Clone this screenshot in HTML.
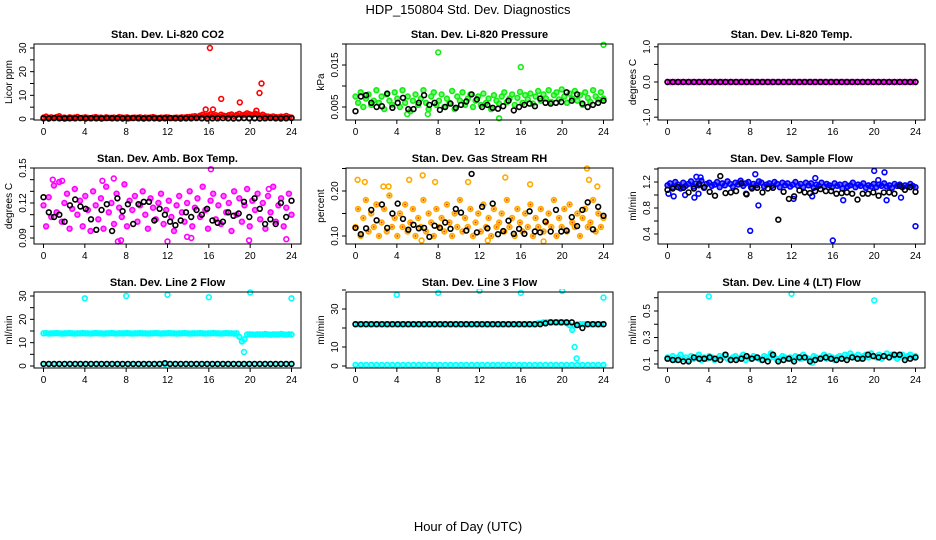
<!DOCTYPE html>
<html><head><meta charset="utf-8"><style>
html,body{margin:0;padding:0;background:#fff;}
svg{display:block;font-family:"Liberation Sans",Arial,sans-serif;}
</style></head><body>
<svg id="chart" width="936" height="540" viewBox="0 0 936 540" xmlns="http://www.w3.org/2000/svg">
<text x="468" y="14" text-anchor="middle" font-size="13">HDP_150804  Std. Dev. Diagnostics</text>
<text x="468" y="531" text-anchor="middle" font-size="13">Hour of Day (UTC)</text>
</svg>
<script>
// ---- data ----
const xTicks=[0,4,8,12,16,20,24];
const co2Red=[0.6,1.0,0.5,0.7,0.4,0.8,1.2,0.5,0.6,0.4,0.7,0.5,0.6,0.9,0.4,0.5,0.7,0.5,0.4,0.6,0.8,0.5,0.6,0.4,0.7,0.5,0.5,0.6,0.4,0.8,0.6,0.5,0.7,0.4,0.5,0.6,0.5,0.7,0.4,0.6,0.5,0.6,0.8,0.5,0.4,0.6,0.5,0.7,0.6,0.4,0.5,0.6,0.5,0.7,0.6,0.8,0.9,1.0,1.2,0.9,1.4,1.8,1.2,1.5,2.0,1.3,1.6,1.1,1.8,1.4,1.2,1.6,1.9,1.3,1.7,2.2,1.5,1.8,2.4,2.0,1.6,2.3,1.9,1.4,1.8,1.2,1.0,0.9,1.1,0.8,0.7,1.0,0.9,1.3,0.8,0.6];
const co2RedOutX=[15.7,16.1,16.4,17.2,19.0,20.6,20.9,21.1];
const co2RedOutY=[4,30,4,8.5,7,3.5,11,15];
const co2Black=[0.3,0.2,0.4,0.3,0.2,0.3,0.3,0.4,0.2,0.3,0.3,0.2,0.4,0.3,0.3,0.2,0.3,0.4,0.3,0.2,0.3,0.3,0.2,0.3,0.4,0.3,0.2,0.3,0.3,0.4,0.3,0.2,0.3,0.3,0.4,0.3,0.2,0.3,0.4,0.3,0.3,0.2,0.3,0.4,0.3,0.2,0.3,0.4];

const pressGreen=[0.0075,0.0060,0.0085,0.0050,0.0070,0.0080,0.0055,0.0065,0.0090,0.0060,0.0075,0.0045,0.0080,0.0065,0.0055,0.0085,0.0070,0.0050,0.0090,0.0060,0.0075,0.0040,0.0065,0.0080,0.0055,0.0070,0.0090,0.0060,0.0045,0.0075,0.0085,0.0055,0.0065,0.0080,0.0050,0.0070,0.0060,0.0088,0.0045,0.0075,0.0065,0.0085,0.0055,0.0070,0.0080,0.0050,0.0065,0.0075,0.0055,0.0082,0.0060,0.0070,0.0045,0.0078,0.0065,0.0058,0.0075,0.0085,0.0062,0.0070,0.0080,0.0055,0.0072,0.0086,0.0060,0.0078,0.0068,0.0082,0.0058,0.0075,0.0088,0.0065,0.0080,0.0070,0.0090,0.0062,0.0078,0.0085,0.0068,0.0092,0.0075,0.0060,0.0082,0.0070,0.0088,0.0065,0.0078,0.0055,0.0085,0.0072,0.0062,0.0090,0.0075,0.0068,0.0085,0.0070];
const pressGreenOutX=[8,16,24,13.9,5,7];
const pressGreenOutY=[0.018,0.0145,0.0198,0.0023,0.0033,0.0033];
const pressBlack=[0.0040,0.0075,0.0078,0.0060,0.0050,0.0052,0.0082,0.0048,0.0060,0.0072,0.0045,0.0045,0.0060,0.0078,0.0055,0.0060,0.0043,0.0050,0.0058,0.0048,0.0055,0.0063,0.0080,0.0068,0.0050,0.0055,0.0048,0.0046,0.0052,0.0065,0.0042,0.0050,0.0055,0.0058,0.0052,0.0070,0.0060,0.0058,0.0060,0.0062,0.0085,0.0065,0.0080,0.0058,0.0050,0.0055,0.0060,0.0065];

const tempMag=[0,0,0,0,0,0,0,0,0,0,0,0,0,0,0,0,0,0,0,0,0,0,0,0,0,0,0,0,0,0,0,0,0,0,0,0,0,0,0,0,0,0,0,0,0,0,0,0,0,0,0,0,0,0,0,0,0,0,0,0,0,0,0,0,0,0,0,0,0,0,0,0,0,0,0,0,0,0,0,0,0,0,0,0,0,0,0,0,0,0,0,0,0,0,0,0];
const tempBlack=[0,0,0,0,0,0,0,0,0,0,0,0,0,0,0,0,0,0,0,0,0,0,0,0,0,0,0,0,0,0,0,0,0,0,0,0,0,0,0,0,0,0,0,0,0,0,0,0];

const ambMag=[0.118,0.100,0.125,0.108,0.135,0.112,0.138,0.104,0.120,0.128,0.098,0.115,0.132,0.110,0.122,0.100,0.126,0.114,0.096,0.130,0.118,0.106,0.124,0.098,0.134,0.112,0.120,0.102,0.128,0.116,0.108,0.136,0.100,0.122,0.114,0.126,0.104,0.118,0.130,0.110,0.098,0.124,0.116,0.106,0.120,0.128,0.102,0.114,0.122,0.108,0.096,0.118,0.126,0.112,0.104,0.120,0.130,0.100,0.116,0.124,0.108,0.134,0.114,0.098,0.122,0.128,0.106,0.118,0.102,0.126,0.112,0.120,0.096,0.130,0.110,0.124,0.104,0.118,0.132,0.100,0.122,0.114,0.128,0.106,0.120,0.098,0.126,0.112,0.134,0.104,0.118,0.124,0.100,0.116,0.128,0.110];
const ambMagOutX=[16.2,12,7.5,7.2,23.5,19.9,0.9,1.8,5.7,6.8,13.9,14.3,21.8];
const ambMagOutY=[0.149,0.087,0.088,0.087,0.089,0.088,0.140,0.139,0.139,0.141,0.091,0.090,0.132];
const ambBlack=[0.125,0.112,0.108,0.110,0.104,0.118,0.123,0.117,0.115,0.106,0.097,0.114,0.119,0.096,0.124,0.113,0.119,0.102,0.119,0.121,0.121,0.105,0.115,0.110,0.104,0.101,0.105,0.112,0.108,0.114,0.110,0.115,0.105,0.103,0.104,0.112,0.109,0.111,0.121,0.108,0.124,0.115,0.102,0.106,0.102,0.120,0.108,0.122];

const rhOrange=[0.12,0.16,0.10,0.14,0.18,0.11,0.15,0.12,0.17,0.10,0.13,0.16,0.11,0.19,0.12,0.14,0.10,0.15,0.12,0.17,0.11,0.13,0.16,0.10,0.14,0.12,0.18,0.11,0.15,0.13,0.10,0.16,0.12,0.14,0.11,0.17,0.13,0.10,0.15,0.12,0.18,0.11,0.14,0.12,0.16,0.10,0.13,0.15,0.11,0.17,0.12,0.14,0.10,0.16,0.12,0.13,0.15,0.11,0.18,0.12,0.14,0.10,0.16,0.13,0.11,0.15,0.12,0.17,0.10,0.14,0.12,0.16,0.11,0.13,0.15,0.12,0.18,0.10,0.14,0.12,0.16,0.11,0.17,0.13,0.12,0.15,0.10,0.14,0.16,0.12,0.13,0.18,0.11,0.15,0.12,0.14];
const rhOrangeOutX=[0.2,0.9,2.7,6.5,7.7,10.9,14.5,16.9,22.4,22.6,23.4,6.4,18.2,12.8,3.2,5.2];
const rhOrangeOutY=[0.225,0.22,0.21,0.235,0.22,0.22,0.23,0.215,0.25,0.225,0.21,0.09,0.088,0.09,0.21,0.225];
const rhBlack=[0.118,0.104,0.117,0.158,0.135,0.170,0.118,0.150,0.172,0.138,0.114,0.125,0.117,0.118,0.098,0.123,0.118,0.130,0.116,0.160,0.152,0.112,0.238,0.108,0.165,0.117,0.172,0.104,0.111,0.134,0.105,0.116,0.105,0.155,0.110,0.108,0.132,0.110,0.158,0.110,0.112,0.142,0.122,0.158,0.175,0.115,0.165,0.145];

const flowBlue=[1.15,1.18,1.12,1.20,1.16,1.10,1.19,1.14,1.17,1.21,1.13,1.18,1.15,1.22,1.11,1.17,1.19,1.14,1.16,1.20,1.12,1.18,1.15,1.21,1.17,1.13,1.19,1.16,1.22,1.14,1.18,1.20,1.12,1.17,1.15,1.21,1.19,1.13,1.16,1.18,1.14,1.20,1.17,1.12,1.19,1.15,1.18,1.13,1.16,1.20,1.14,1.17,1.12,1.19,1.15,1.18,1.11,1.16,1.14,1.19,1.13,1.17,1.15,1.12,1.18,1.14,1.16,1.10,1.17,1.13,1.15,1.19,1.12,1.16,1.14,1.18,1.11,1.15,1.13,1.17,1.12,1.16,1.14,1.18,1.13,1.15,1.11,1.17,1.14,1.16,1.12,1.15,1.13,1.17,1.14,1.12];
const flowBlueOutX=[0.1,0.6,1.7,2.6,3.0,7.6,12.2,14,17,21.2,22.6,2.8,3.2,8.5,14.3,20.4,8,8.8,16,24,20,21];
const flowBlueOutY=[1.02,0.98,1.0,0.96,1.02,1.02,0.94,0.98,0.92,0.92,0.96,1.28,1.27,1.32,1.26,1.23,0.45,0.84,0.3,0.52,1.37,1.35];
const flowBlack=[1.08,1.10,1.12,1.11,1.04,1.10,1.17,1.12,1.05,0.99,1.29,1.03,1.04,1.06,1.18,1.01,1.10,1.11,1.04,1.10,1.11,0.62,1.05,0.94,0.98,1.07,1.04,1.03,1.06,1.09,1.06,1.06,1.02,1.03,1.04,1.02,0.93,1.02,1.02,1.04,0.99,1.04,1.04,1.02,1.14,1.08,1.12,1.05];

const line2Cyan=[14.0,14.1,13.9,14.0,14.0,14.1,14.0,13.9,14.0,14.0,14.1,14.0,13.9,14.0,14.0,14.1,14.0,14.0,13.9,14.0,14.1,14.0,14.0,13.9,14.0,14.0,14.1,14.0,13.9,14.0,14.0,14.0,14.1,14.0,13.9,14.0,14.0,14.1,14.0,14.0,13.9,14.0,14.0,14.1,14.0,13.9,14.0,14.0,14.1,14.0,14.0,13.9,14.0,14.0,14.1,14.0,13.9,14.0,14.0,14.0,14.1,14.0,13.9,14.0,14.0,14.1,14.0,14.0,13.9,14.0,14.1,14.0,14.0,13.9,14.0,12.5,10.5,11.5,13.5,13.6,13.5,13.4,13.6,13.5,13.5,13.7,13.5,13.4,13.6,13.5,13.5,13.7,13.5,13.4,13.6,13.5];
const line2CyanOutX=[4,8,12,16,20,24,19.4];
const line2CyanOutY=[29,30,30.5,29.5,31.5,29,6];
const line2CyanLow=[0.8,0.8,0.8,0.8,0.8,0.8,0.8,0.8,0.8,0.8,0.8,0.8,0.8,0.8,0.8,0.8,0.8,0.8,0.8,0.8,0.8,0.8,0.8,0.8,0.8,0.8,0.8,0.8,0.8,0.8,0.8,0.8,0.8,0.8,0.8,0.8,0.8,0.8,0.8,0.8,0.8,0.8,0.8,0.8,0.8,0.8,0.8,0.8];
const line2Black=[0.9,0.9,0.9,0.9,0.9,0.9,0.9,0.9,0.9,0.9,0.9,0.9,0.9,0.9,0.9,0.9,0.9,0.9,0.9,0.9,0.9,0.9,0.9,1.2,0.9,0.9,0.9,0.9,0.9,0.9,0.9,0.9,0.9,0.9,0.9,0.9,0.9,0.9,0.9,0.9,0.9,0.9,0.9,0.9,0.9,0.9,0.9,0.9];

const line3Cyan=[22,22,22,22,22,22,22,22,22,22,22,22,22,22,22,22,22,22,22,22,22,22,22,22,22,22,22,22,22,22,22,22,22,22,22,22,22,22,22,22,22,22,22,22,22,22,22,22,22,22,22,22,22,22,22,22,22,22,22,22,22,22,22,22,22,22,22,22,22,22,22.5,22.5,23,23,23,23,23,23,23,23,23,22.5,21.5,19,21.5,22,22,22,22,22,22,22,22,22,22,22];
const line3CyanOutX=[4,8,12,16,20,24,21.2,21.4];
const line3CyanOutY=[37.5,38.5,39.5,38.5,39.5,36,10,4];
const line3CyanLow=[0.6,0.6,0.6,0.6,0.6,0.6,0.6,0.6,0.6,0.6,0.6,0.6,0.6,0.6,0.6,0.6,0.6,0.6,0.6,0.6,0.6,0.6,0.6,0.6,0.6,0.6,0.6,0.6,0.6,0.6,0.6,0.6,0.6,0.6,0.6,0.6,0.6,0.6,0.6,0.6,0.6,0.6,0.6,0.6,0.6,0.6,0.6,0.6];
const line3Black=[22,22,22,22,22,22,22,22,22,22,22,22,22,22,22,22,22,22,22,22,22,22,22,22,22,22,22,22,22,22,22,22,22,22,22,22,22.5,23,23,23,23,23,21.5,20,22,22,22,22];

const line4Cyan=[0.15,0.14,0.16,0.13,0.15,0.17,0.14,0.15,0.13,0.16,0.14,0.15,0.17,0.13,0.15,0.14,0.16,0.15,0.13,0.14,0.16,0.15,0.17,0.14,0.13,0.15,0.16,0.14,0.15,0.17,0.13,0.15,0.14,0.16,0.15,0.14,0.13,0.16,0.15,0.14,0.17,0.15,0.13,0.14,0.16,0.15,0.14,0.15,0.13,0.16,0.15,0.14,0.17,0.15,0.14,0.13,0.16,0.15,0.14,0.15,0.17,0.14,0.16,0.15,0.13,0.15,0.16,0.14,0.17,0.15,0.18,0.16,0.15,0.17,0.14,0.16,0.17,0.15,0.18,0.16,0.15,0.17,0.14,0.16,0.18,0.15,0.17,0.16,0.14,0.16,0.17,0.15,0.16,0.17,0.15,0.16];
const line4CyanOutX=[4,12,20,14,10];
const line4CyanOutY=[0.61,0.63,0.58,0.11,0.18];
const line4Black=[0.14,0.13,0.13,0.12,0.12,0.15,0.14,0.14,0.15,0.14,0.13,0.17,0.13,0.13,0.14,0.16,0.14,0.15,0.13,0.12,0.17,0.12,0.13,0.14,0.12,0.15,0.15,0.12,0.13,0.14,0.15,0.14,0.13,0.14,0.13,0.15,0.14,0.14,0.17,0.16,0.15,0.16,0.15,0.17,0.17,0.13,0.14,0.15];

// ---- drawing ----
const NS="http://www.w3.org/2000/svg";
const svg=document.getElementById('chart');
function mk(tag,attrs,parent){const e=document.createElementNS(NS,tag);for(const k in attrs)e.setAttribute(k,attrs[k]);(parent||svg).appendChild(e);return e;}
const colLeft=[34,346,658], rowTop=[44,168,292], W=267, H=76;
const panels=[
 {t:"Stan. Dev. Li-820 CO2",yl:"Licor ppm",c:0,r:0,v1:0,p1:119,v2:30,p2:48,ticks:[0,5,10,15,20,25,30],labs:["0","","10","","20","","30"],col:"#ff0000",main:co2Red,ox:co2RedOutX,oy:co2RedOutY,black:co2Black},
 {t:"Stan. Dev. Li-820 Pressure",yl:"kPa",c:1,r:0,v1:0.005,p1:107,v2:0.015,p2:65,ticks:[0.005,0.010,0.015,0.020],labs:["0.005","","0.015",""],col:"#11ee11",main:pressGreen,ox:pressGreenOutX,oy:pressGreenOutY,black:pressBlack},
 {t:"Stan. Dev. Li-820 Temp.",yl:"degrees C",c:2,r:0,v1:0,p1:82,v2:1,p2:46.8,ticks:[-1,-0.5,0,0.5,1],labs:["-1.0","","0.0","","1.0"],col:"#ff00ff",main:tempMag,ox:[],oy:[],black:tempBlack},
 {t:"Stan. Dev. Amb. Box Temp.",yl:"degrees C",c:0,r:1,v1:0.09,p1:238,v2:0.15,p2:168,ticks:[0.09,0.10,0.11,0.12,0.13,0.14,0.15],labs:["0.09","","","0.12","","","0.15"],col:"#ff00ff",main:ambMag,ox:ambMagOutX,oy:ambMagOutY,black:ambBlack},
 {t:"Stan. Dev. Gas Stream RH",yl:"percent",c:1,r:1,v1:0.10,p1:236,v2:0.20,p2:191,ticks:[0.10,0.15,0.20,0.25],labs:["0.10","","0.20",""],col:"#ffaa00",main:rhOrange,ox:rhOrangeOutX,oy:rhOrangeOutY,black:rhBlack},
 {t:"Stan. Dev. Sample Flow",yl:"ml/min",c:2,r:1,v1:0.4,p1:234,v2:1.2,p2:182,ticks:[0.4,0.6,0.8,1.0,1.2,1.4],labs:["0.4","","0.8","","1.2",""],col:"#0000ff",main:flowBlue,ox:flowBlueOutX,oy:flowBlueOutY,black:flowBlack},
 {t:"Stan. Dev. Line 2 Flow",yl:"ml/min",c:0,r:2,v1:0,p1:366,v2:30,p2:296,ticks:[0,5,10,15,20,25,30],labs:["0","","10","","20","","30"],col:"#00ffff",main:line2Cyan,low:line2CyanLow,ox:line2CyanOutX,oy:line2CyanOutY,black:line2Black},
 {t:"Stan. Dev. Line 3 Flow",yl:"ml/min",c:1,r:2,v1:0,p1:366,v2:30,p2:309,ticks:[0,10,20,30,40],labs:["0","10","","30",""],col:"#00ffff",main:line3Cyan,low:line3CyanLow,ox:line3CyanOutX,oy:line3CyanOutY,black:line3Black},
 {t:"Stan. Dev. Line 4 (LT) Flow",yl:"ml/min",c:2,r:2,v1:0.1,p1:364,v2:0.5,p2:311,ticks:[0.1,0.2,0.3,0.4,0.5,0.6],labs:["0.1","","0.3","","0.5",""],col:"#00ffff",main:line4Cyan,ox:line4CyanOutX,oy:line4CyanOutY,black:line4Black}
];
panels.forEach((p,pi)=>{
  const L=colLeft[p.c], T=rowTop[p.r];
  const xs=h=>L+9.5+h*(248/24);
  const ys=v=>p.p1+(v-p.v1)*(p.p2-p.p1)/(p.v2-p.v1);
  const g=mk('g',{});
  
  
  const tt=mk('text',{x:L+W/2,y:T-6,'text-anchor':'middle','font-size':11,'font-weight':'bold'},g);
  tt.textContent=p.t;
  
  
  const clip=mk('clipPath',{id:'cp'+pi},g);
  mk('rect',{x:L-3,y:T-3,width:W+6,height:H+6},clip);
  const pts=mk('g',{'clip-path':'url(#cp'+pi+')'},g);
  function dot(x,y,color,name,fill){
    const c=mk('circle',{cx:x.toFixed(1),cy:y.toFixed(1),r:2.4,fill:fill?color:'none','fill-opacity':0.55,stroke:color,'stroke-width':1.6},pts);
    
    
  }
  if(p.low){p.low.forEach((v,i)=>dot(xs(i*24/(p.low.length-1)),ys(v),p.col,'point-low',true));}
  p.main.forEach((v,i)=>dot(xs(i*24/(p.main.length-1)),ys(v),p.col,'point',true));
  p.ox.forEach((h,i)=>dot(xs(h),ys(p.oy[i]),p.col,'point-outlier',false));
  if(p.col==='#ffaa00'){p.main.forEach((v,i)=>{const d=mk('circle',{cx:xs(i*24/(p.main.length-1)).toFixed(1),cy:ys(v).toFixed(1),r:0.9,fill:'#ff2200'},pts);});}
  p.black.forEach((v,i)=>dot(xs(i*24/(p.black.length-1)),ys(v),'#000','point-black',false));
  const fr=mk('rect',{x:L,y:T,width:W,height:H,fill:'none',stroke:'#000','stroke-width':1},g);
  
  
  xTicks.forEach(h=>{
    mk('line',{x1:xs(h),x2:xs(h),y1:T+H,y2:T+H+4,stroke:'#000'},g);
    const lt=mk('text',{x:xs(h),y:T+H+15,'text-anchor':'middle','font-size':10},g);
    lt.textContent=h;
    
    
  });
  p.ticks.forEach((v,i)=>{
    const y=ys(v);
    mk('line',{x1:L-4,x2:L,y1:y,y2:y,stroke:'#000'},g);
    if(p.labs[i]){
      const lt=mk('text',{x:L-8,y:y,'text-anchor':'middle','font-size':10,transform:'rotate(-90 '+(L-8)+' '+y+')'},g);
      lt.textContent=p.labs[i];
      
      
    }
  });
  const yt=mk('text',{x:L-22,y:T+H/2,'text-anchor':'middle','font-size':10,transform:'rotate(-90 '+(L-22)+' '+(T+H/2)+')'},g);
  yt.textContent=p.yl;
  
  
});
</script>
</body></html>
